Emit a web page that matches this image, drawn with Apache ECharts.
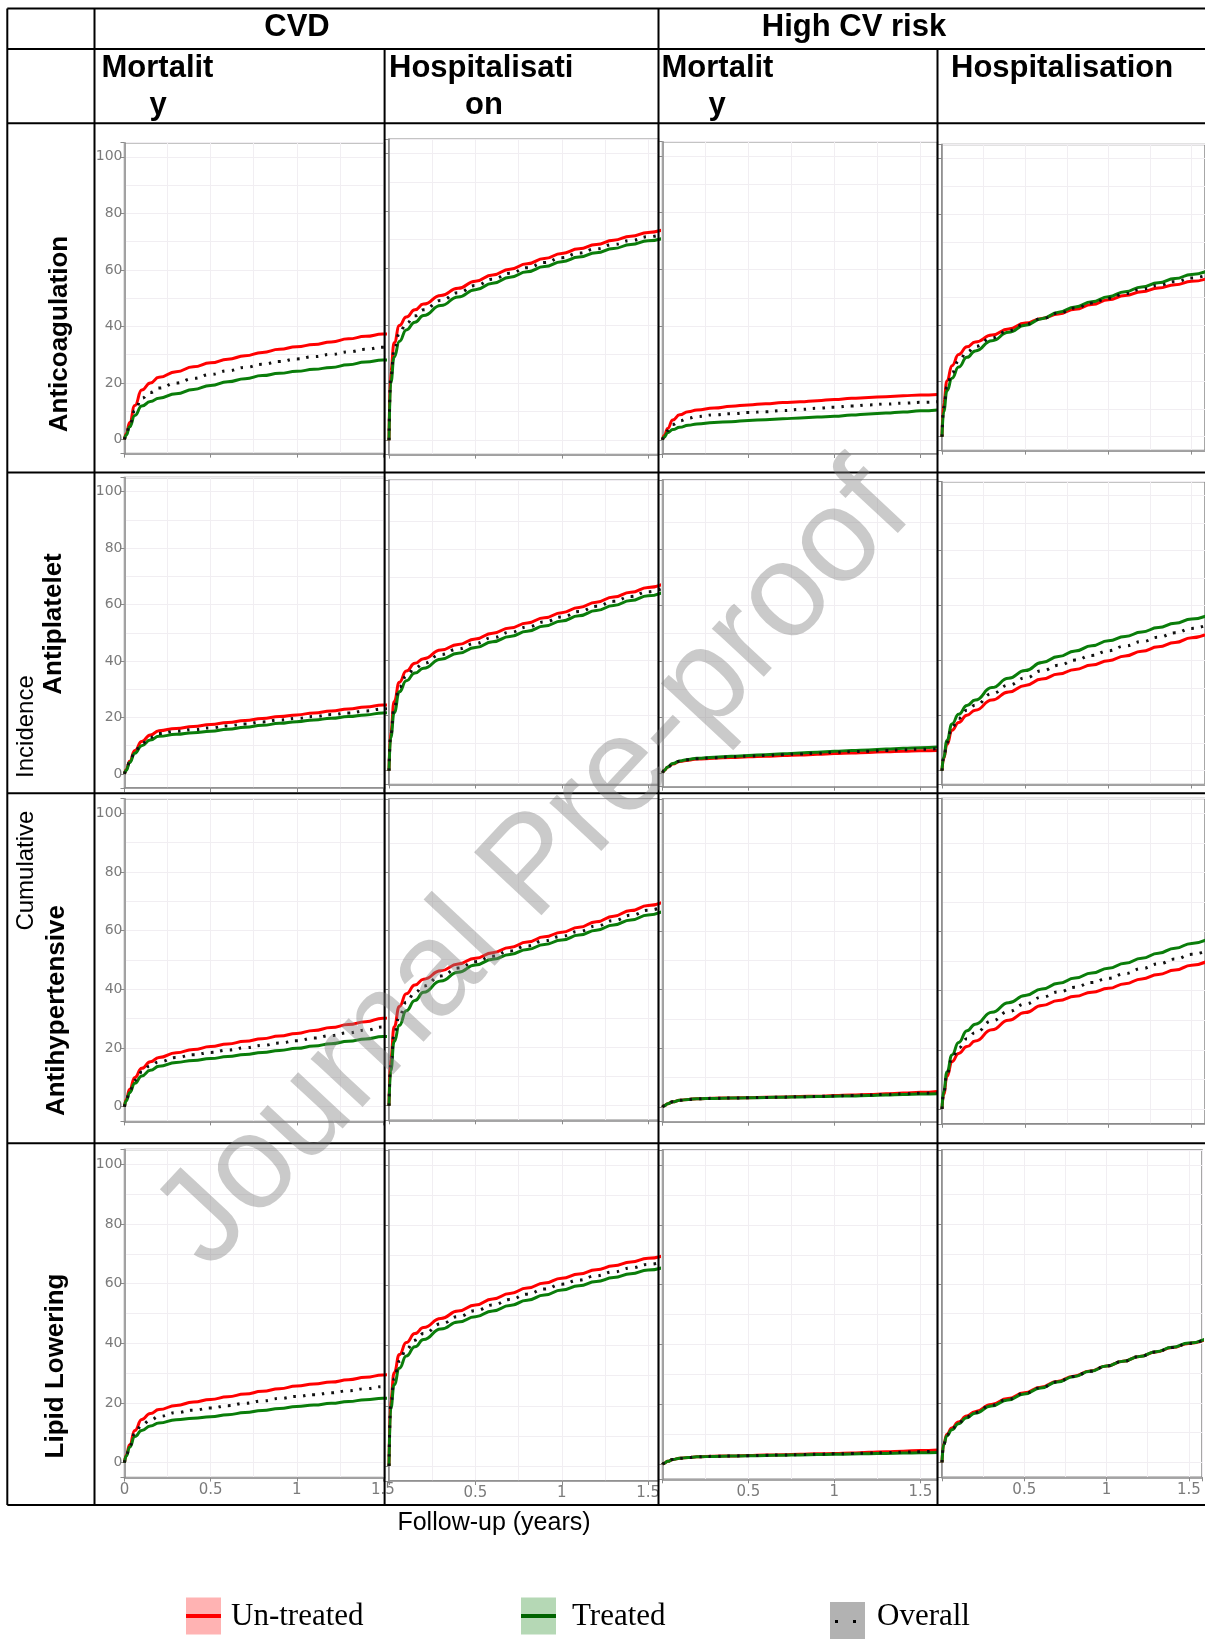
<!DOCTYPE html>
<html><head><meta charset="utf-8">
<script src="https://cdn.jsdelivr.net/npm/echarts@6/dist/echarts.min.js"></script>
<style>html,body{margin:0;padding:0;background:#fff}#c{width:1205px;height:1639px}</style>
</head><body><div id="c"></div><script>
// ---------- DATA ----------
const T = [0,0.01,0.03,0.06,0.1,0.15,0.2,0.3,0.4,0.5,0.6,0.7,0.8,0.9,1.0,1.1,1.2,1.3,1.4,1.5,1.6];
const X_MAX = [1.51, 1.56, 1.6, 1.58];
const Y_TICKS = [0,20,40,60,80,100];
const X_TICK_VALUES = [0,0.5,1,1.5];
const X_TICK_LABELS = ['0','0.5','1','1.5'];
const groups = ['CVD','High CV risk'];
const treatments = ['Anticoagulation','Antiplatelet','Antihypertensive','Lipid Lowering'];
const legendNames = ['Un-treated','Treated','Overall'];

// Anticoagulation
const r_A1 = [0,2,6,12,17.5,20,22,24,25.7,27.1,28.4,29.6,30.8,31.9,32.8,33.6,34.5,35.6,36.5,37.3,38];
const g_A1 = [0,1.5,4.5,8.5,11.8,13.4,14.6,16.2,17.7,19.1,20.4,21.5,22.6,23.4,24.1,24.8,25.5,26.4,27.4,28.1,28.8];
const o_A1 = [0,1.8,5.2,10.2,14.6,16.6,18.2,20.0,21.6,23.0,24.3,25.5,26.6,27.6,28.5,29.3,30.1,31,31.9,32.6,33.2];
const r_A2 = [0,24,34,40,43,45.5,47.5,50.5,53,55.5,57.7,59.7,61.6,63.4,65.2,66.8,68.3,69.8,71.2,72.5,73.8];
const g_A2 = [0,20,29,34.5,38.5,41.2,43.5,47,50,52.5,54.8,56.9,58.8,60.6,62.3,63.9,65.4,66.9,68.3,69.6,70.8];
const o_A2 = [0,22,31.5,37.3,40.8,43.4,45.5,48.8,51.5,54,56.2,58.3,60.2,62,63.7,65.3,66.8,68.3,69.7,71,72.3];
const r_A3 = [0,1.5,4,7,8.8,9.9,10.5,11.2,11.8,12.3,12.7,13.1,13.4,13.8,14.2,14.6,14.9,15.2,15.5,15.8,16];
const g_A3 = [0,1,2.5,3.6,4.4,5.1,5.6,6.1,6.4,6.8,7.1,7.4,7.7,8.0,8.3,8.7,9.1,9.4,9.8,10.2,10.5];
const o_A3 = [0,1.2,3.2,5.4,6.7,7.6,8.2,8.8,9.2,9.6,9.9,10.3,10.7,11.1,11.5,11.9,12.3,12.6,12.9,13.2,13.4];
const r_A4 = [0,12,20,25.5,29.5,32.3,34,36.5,38.7,40.8,42.5,44.1,45.8,47.5,49.2,50.7,52.1,53.4,54.6,55.8,57];
const g_A4 = [0,9,16.5,21,25,28.5,30.8,34.5,37.5,40,42.4,44.7,46.6,48.5,50.3,52.1,53.8,55.3,56.8,58.3,59.7];
const o_A4 = [0,10.5,18,23,27.2,30.4,32.4,35.5,38.1,40.4,42.4,44.4,46.2,48,49.7,51.4,53,54.4,55.7,57,58.3];
// Antiplatelet
const r_B1 = [0,1.5,4.5,8.3,11.5,13.8,15.3,16.1,16.8,17.5,18.2,18.9,19.6,20.3,20.9,21.6,22.3,23,23.7,24.4,25];
const g_B1 = [0,1.3,4,7.3,10,12,13.3,14,14.6,15.1,15.8,16.5,17.2,17.9,18.5,19.1,19.7,20.3,20.9,21.6,22.2];
const o_B1 = [0,1.4,4.2,7.8,10.8,12.9,14.3,15.1,15.7,16.3,17,17.7,18.4,19.1,19.7,20.3,21,21.6,22.3,23,23.6];
const r_B2 = [0,14,25,32,36,38.8,40.5,43.6,45.6,47.6,49.7,51.6,53.4,55.3,57.1,59,60.9,62.8,64.5,66.2,68];
const g_B2 = [0,12,21,28.5,32.5,35.3,37,40.3,42.4,44.5,46.6,48.5,50.4,52.3,54.1,56,57.9,59.7,61.5,63.2,65];
const o_B2 = [0,13,23,30.2,34.2,37,38.8,42,44,46,48.1,50,51.9,53.8,55.6,57.5,59.4,61.2,63,64.7,66.5];
const r_B3 = [0,0.8,2.0,3.1,4.0,4.5,4.9,5.2,5.5,5.7,5.9,6.2,6.4,6.6,6.9,7.1,7.3,7.5,7.7,7.9,8.0];
const g_B3 = [0,0.8,2.1,3.3,4.2,4.8,5.2,5.6,5.9,6.2,6.5,6.8,7.1,7.4,7.7,8,8.2,8.5,8.8,9,9.2];
const o_B3 = [0,0.8,2.05,3.2,4.1,4.65,5.05,5.4,5.7,5.95,6.2,6.5,6.75,7.0,7.3,7.55,7.75,8.0,8.25,8.45,8.6];
const r_B4 = [0,4.5,9.5,14.7,17.5,20.2,22,25.7,28.6,31,33.3,35.1,36.8,38.4,40,41.7,43.4,45,46.6,48.3,49.9];
const g_B4 = [0,5,11,17,20.5,23.7,25.7,30.2,33.6,36.4,39.3,41.5,43.5,45.4,47.2,48.8,50.4,52,53.6,55.1,56.6];
const o_B4 = [0,4.8,10.2,15.8,19,22,23.8,28,31.1,33.7,36.3,38.3,40.2,41.9,43.6,45.3,46.9,48.5,50.1,51.7,53.2];
// Antihypertensive
const r_C1 = [0,2.5,6,10,13.1,15.3,16.8,18.4,19.5,20.5,21.4,22.3,23.2,24.1,25,26,27,28,29,30.2,31.3];
const g_C1 = [0,2,4.8,8,10.5,12.4,13.8,15.1,15.8,16.4,17.1,17.8,18.5,19.2,19.9,20.7,21.5,22.3,23.1,23.9,24.7];
const o_C1 = [0,2.2,5.4,9,11.8,13.9,15.3,16.8,17.7,18.5,19.3,20.1,20.9,21.7,22.5,23.4,24.3,25.2,26.1,27.2,28.2];
const r_C2 = [0,16,27,34,38.3,41.3,43.3,46.2,48.5,50.5,52.4,54.2,56,57.8,59.4,61.1,63,64.9,66.8,68.5,70.2];
const g_C2 = [0,12,22,27.5,32.5,36,38.8,42.7,45.7,48.2,50.1,51.8,53.5,55.2,56.7,58.4,60.1,61.9,63.6,65.3,67];
const o_C2 = [0,14,24.5,30.7,35.4,38.7,41,44.4,47.1,49.3,51.2,53,54.7,56.5,58,59.7,61.5,63.4,65.2,66.9,68.6];
const r_C3 = [0,0.4,1.1,1.8,2.3,2.6,2.8,3.0,3.1,3.2,3.3,3.4,3.6,3.7,3.9,4.1,4.3,4.5,4.8,5.0,5.3];
const g_C3 = [0,0.4,1.1,1.8,2.3,2.6,2.8,2.95,3.05,3.15,3.25,3.35,3.45,3.55,3.7,3.8,3.95,4.1,4.25,4.4,4.5];
const o_C3 = [0,0.4,1.1,1.8,2.3,2.6,2.8,2.97,3.07,3.17,3.27,3.37,3.52,3.62,3.8,3.95,4.12,4.3,4.5,4.7,4.9];
const r_C4 = [0,5,11,16,18.8,21.1,23,26.8,30,32.6,35,36.7,38.1,39.5,40.8,42.4,44,45.5,47,48.6,50.2];
const g_C4 = [0,6,12.5,18.3,22.5,26.5,28.7,32.7,35.9,38.4,40.6,42.5,44.3,46,47.6,49.3,51,52.7,54.4,56,57.6];
const o_C4 = [0,5.5,11.8,17.2,20.7,23.8,25.8,29.8,33,35.5,37.8,39.6,41.2,42.8,44.2,45.8,47.5,49.1,50.7,52.3,53.9];
// Lipid Lowering
const r_D1 = [0,2.5,6,10.8,14.5,16.5,17.8,19.2,20.3,21.2,22.1,23,23.9,24.8,25.7,26.4,27,27.8,28.6,29.4,30];
const g_D1 = [0,2.2,5.2,8.8,10.8,12.3,13.3,14.4,14.9,15.4,16.1,16.8,17.5,18.2,18.8,19.3,19.9,20.5,21.1,21.6,22.1];
const o_D1 = [0,2.3,5.6,9.8,12.6,14.3,15.5,16.8,17.6,18.3,19.1,19.9,20.7,21.5,22.2,22.8,23.4,24.1,24.8,25.5,26];
const r_D2 = [0,22,31,37,41,44,46,49,51.5,53.5,55.5,57.3,59.1,60.8,62.4,63.8,65.2,66.5,67.8,69,70.2];
const g_D2 = [0,19,27,32.5,36.5,39.6,42,45.5,47.8,49.6,51.5,53.3,55.1,56.8,58.5,59.9,61.3,62.6,63.9,65.1,66.3];
const o_D2 = [0,20.5,29,34.8,38.8,41.8,44,47.2,49.6,51.6,53.5,55.3,57.1,58.8,60.4,61.8,63.2,64.5,65.8,67,68.2];
const r_D3 = [0,0.4,1.0,1.6,2.0,2.3,2.5,2.7,2.8,2.95,3.1,3.2,3.35,3.5,3.65,3.8,4.0,4.2,4.4,4.6,4.8];
const g_D3 = [0,0.4,1.0,1.6,2.0,2.3,2.5,2.65,2.75,2.85,2.95,3.05,3.15,3.25,3.35,3.45,3.55,3.65,3.75,3.85,3.95];
const o_D3 = [0,0.4,1.0,1.6,2.0,2.3,2.5,2.67,2.77,2.9,3.02,3.12,3.25,3.37,3.5,3.62,3.77,3.92,4.07,4.22,4.37];
const r_D4 = [0,6.3,9.5,11.6,13.6,15.6,17,19.5,21.5,23.4,25.3,27.2,29,30.7,32.4,34,35.6,37.1,38.6,40,41.3];
const g_D4 = [0,6,9,11,13,15,16.5,19,21,23,25,27,28.8,30.6,32.4,34,35.6,37.2,38.7,40.1,41.5];
const o_D4 = [0,6.1,9.2,11.3,13.3,15.3,16.8,19.2,21.2,23.2,25.1,27.1,28.9,30.6,32.4,34,35.6,37.1,38.6,40,41.4];

const PANELS = [
  [[r_A1,g_A1,o_A1],[r_A2,g_A2,o_A2],[r_A3,g_A3,o_A3],[r_A4,g_A4,o_A4]],
  [[r_B1,g_B1,o_B1],[r_B2,g_B2,o_B2],[r_B3,g_B3,o_B3],[r_B4,g_B4,o_B4]],
  [[r_C1,g_C1,o_C1],[r_C2,g_C2,o_C2],[r_C3,g_C3,o_C3],[r_C4,g_C4,o_C4]],
  [[r_D1,g_D1,o_D1],[r_D2,g_D2,o_D2],[r_D3,g_D3,o_D3],[r_D4,g_D4,o_D4]]
];

// ---------- LAYOUT ----------
const COL_X = [[124.5,384.6],[389,658.5],[662.5,937.5],[942,1208]];
const ROW_Y = [
  [[142.7,453.6],[139.3,454.6],[141.7,454],[144.4,450.6]],
  [[477.5,788],[480.2,784.5],[480,786.7],[481.7,784.5]],
  [[798.7,1121.4],[799,1120.3],[799,1121.7],[798.5,1123.8]],
  [[1149.4,1477.6],[1150,1481],[1150,1479.3],[1150,1477.3]]
];
const AX = '#8a8a8a', GRID_MAJ = '#e5e1e7', GRID_MIN = '#f1eef2', LAB = '#7b7b7b';
const COLORS = ['#ff0000', '#0a7d0a', '#111111'];

const grid = [], xAxis = [], yAxis = [], series = [];
for (let r = 0; r < 4; r++) {
  for (let c = 0; c < 4; c++) {
    const gi = grid.length;
    const [x0, x1] = COL_X[c], [y0, y1] = ROW_Y[r][c];
    grid.push({left: x0, top: y0, width: x1 - x0, height: y1 - y0, show: true,
      borderColor: AX, borderWidth: 1.5, backgroundColor: 'transparent'});
    xAxis.push({gridIndex: gi, type: 'value', min: 0, max: X_MAX[c], interval: 0.5, position: 'bottom',
      axisLine: {show: true, onZero: false, lineStyle: {color: AX, width: 1.5}},
      axisTick: {show: true, length: 4, lineStyle: {color: AX}},
      axisLabel: {show: r === 3, color: LAB, fontSize: 15, fontFamily: 'DejaVu Sans', margin: 5,
        formatter: v => { const k = X_TICK_VALUES.findIndex(t => Math.abs(t - v) < 1e-6);
          if (k < 0 || (c > 0 && k === 0)) return ''; return X_TICK_LABELS[k]; }},
      splitLine: {show: true, lineStyle: {color: GRID_MAJ, width: 1}}});
    xAxis.push({gridIndex: gi, type: 'value', min: 0, max: X_MAX[c], interval: 0.25, position: 'top',
      axisLine: {show: false}, axisTick: {show: false}, axisLabel: {show: false},
      splitLine: {show: true, lineStyle: {color: GRID_MIN, width: 1}}});
    yAxis.push({gridIndex: gi, type: 'value', min: -5, max: 105, splitNumber: 5, position: 'left',
      axisLine: {show: true, onZero: false, lineStyle: {color: AX, width: 1.5}},
      axisTick: {show: true, length: 4, lineStyle: {color: AX}},
      axisLabel: {show: c === 0, color: LAB, fontSize: 14, fontFamily: 'DejaVu Sans', margin: 2,
        formatter: v => Y_TICKS.indexOf(Math.round(v)) >= 0 && Math.abs(v - Math.round(v)) < 1e-6 ? String(Math.round(v)) : ''},
      splitLine: {show: true, lineStyle: {color: GRID_MAJ, width: 1}}});
    yAxis.push({gridIndex: gi, type: 'value', min: -5, max: 105, splitNumber: 11, position: 'right',
      axisLine: {show: false}, axisTick: {show: false}, axisLabel: {show: false},
      splitLine: {show: true, lineStyle: {color: GRID_MIN, width: 1}}});
    PANELS[r][c].forEach((arr, s) => {
      series.push({type: 'line', name: legendNames[s], xAxisIndex: 2 * gi, yAxisIndex: 2 * gi,
        data: T.map((t, k) => [t, arr[k]]), showSymbol: false, smooth: 0.5, smoothMonotone: 'x',
        clip: true, silent: true, z: 3 + s,
        lineStyle: s < 2 ? {color: COLORS[s], width: 3} : {color: COLORS[2], width: 3, type: [2.5, 7], cap: 'butt'}});
    });
  }
}

// ---------- TABLE / TEXT GRAPHICS ----------
const G = [];
const hline = (y, xa, xb) => G.push({type: 'line', z: 50, shape: {x1: xa, y1: y, x2: xb, y2: y}, style: {stroke: '#000', lineWidth: 2}});
const vline = (x, ya, yb) => G.push({type: 'line', z: 50, shape: {x1: x, y1: ya, x2: x, y2: yb}, style: {stroke: '#000', lineWidth: 2}});
[8.4, 49, 123.3, 472.4, 793.2, 1143.3, 1505].forEach(y => hline(y, 7.3, 1205));
vline(7.3, 8.4, 1505); vline(94.5, 8.4, 1505); vline(658.5, 8.4, 1505);
vline(384.6, 49, 1505); vline(937.5, 49, 1505);

const txt = (text, x, y, opt) => G.push(Object.assign({type: 'text', z: 60, x: x, y: y,
  style: Object.assign({text: text, x: 0, y: 0, fill: '#000', fontFamily: '"Liberation Sans", Arial, sans-serif',
    fontSize: 31, fontWeight: 'bold', align: 'center', verticalAlign: 'middle',
    textAlign: 'center', textVerticalAlign: 'middle'}, opt && opt.style)}, opt && opt.el));

txt(groups[0], 297, 27);
txt(groups[1], 854, 27);
txt('Mortalit', 101.5, 68, {style: {align: 'left', textAlign: 'left'}});
txt('y', 158, 105);
txt('Hospitalisati', 389, 68, {style: {align: 'left', textAlign: 'left'}});
txt('on', 484, 105);
txt('Mortalit', 661.5, 68, {style: {align: 'left', textAlign: 'left'}});
txt('y', 717, 105);
txt('Hospitalisation', 951, 68, {style: {align: 'left', textAlign: 'left'}});

const ROW_LABEL_POS = [[59.6, 334], [54.3, 624], [56.4, 1010.6], [55.4, 1366]];
treatments.forEach((t, i) => txt(t, ROW_LABEL_POS[i][0], ROW_LABEL_POS[i][1],
  {el: {rotation: Math.PI / 2}, style: {fontSize: 26}}));
txt('Incidence', 26, 726.6, {el: {rotation: Math.PI / 2}, style: {fontSize: 24, fontWeight: 'normal'}});
txt('Cumulative', 26, 870.6, {el: {rotation: Math.PI / 2}, style: {fontSize: 24, fontWeight: 'normal'}});
txt('Follow-up (years)', 494, 1523, {style: {fontSize: 25, fontWeight: 'normal'}});

// legend
const LEG = [
  {x: 186, fill: '#ffb3b3', stroke: '#ff0000', tx: 231, y: 1597.5, h: 37},
  {x: 521, fill: '#b5d8b5', stroke: '#006400', tx: 572, y: 1597.5, h: 37},
  {x: 830, fill: '#b2b2b2', stroke: null, tx: 877, y: 1602, h: 40}
];
LEG.forEach((l, i) => {
  G.push({type: 'rect', z: 60, shape: {x: l.x, y: l.y, width: 35, height: l.h}, style: {fill: l.fill}});
  if (l.stroke) {
    G.push({type: 'line', z: 61, shape: {x1: l.x, y1: l.y + l.h / 2, x2: l.x + 35, y2: l.y + l.h / 2}, style: {stroke: l.stroke, lineWidth: 4}});
  } else {
    G.push({type: 'rect', z: 61, shape: {x: l.x + 5, y: 1620, width: 3, height: 3}, style: {fill: '#000'}});
    G.push({type: 'rect', z: 61, shape: {x: l.x + 23, y: 1620, width: 3, height: 3}, style: {fill: '#000'}});
  }
  txt(legendNames[i], l.tx, 1617, {style: {align: 'left', textAlign: 'left', fontWeight: 'normal', fontSize: 31,
    fontFamily: '"Liberation Serif", "Times New Roman", serif'}});
});

// watermark
G.push({type: 'text', z: 100, x: 535, y: 868, rotation: 47 * Math.PI / 180,
  style: {text: 'Journal Pre-proof', x: 0, y: 0, fill: 'rgba(128,128,128,0.42)',
    fontFamily: '"Liberation Sans", Arial, sans-serif', fontSize: 134, fontWeight: 'normal',
    align: 'center', verticalAlign: 'middle', textAlign: 'center', textVerticalAlign: 'middle'}});

const chart = echarts.init(document.getElementById('c'), null, {renderer: 'canvas', width: 1205, height: 1639});
chart.setOption({animation: false, backgroundColor: '#fff', grid, xAxis, yAxis, series, graphic: {elements: G}});
</script></body></html>
